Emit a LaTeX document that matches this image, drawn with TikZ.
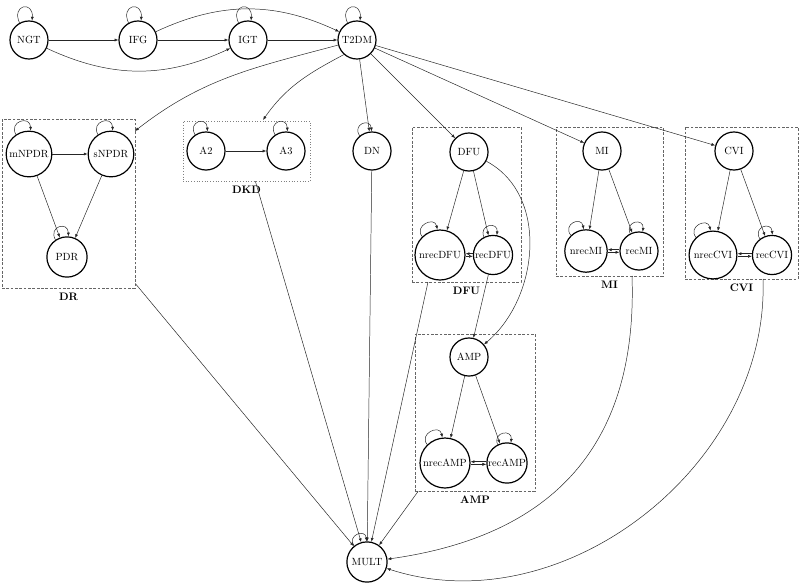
\documentclass[tikz,border=0pt]{standalone}
\usetikzlibrary{arrows.meta,fit,calc}
\newcommand\nodeloop[3]{%
  \pgfmathtruncatemacro\lpa{#2+19}\pgfmathtruncatemacro\lpb{#2-19}%
  \draw[arr] (#1.\lpa) .. controls +(\lpa-5:#3) and +(\lpb+5:#3) .. (#1.\lpb);}
\begin{document}
\begin{tikzpicture}[x=0.92pt,y=-0.92pt,
  st/.style={circle,draw,line width=1.1pt,inner sep=0pt,minimum size=35pt,font=\fontsize{9.6}{11}\selectfont},
  arr/.style={line width=0.45pt,draw=black!85,-{Latex[length=3.5pt,width=2.8pt]}},
  dbox/.style={draw=black!60,line width=0.6pt,dash pattern=on 2.5pt off 1.5pt,inner sep=0pt},
  dotbox/.style={draw=black!50,line width=0.5pt,dotted,inner sep=0pt},
  blab/.style={font=\bfseries,below=1pt}
]
\useasboundingbox (0,0) rectangle (800,585);

% boxes
\coordinate (drA) at (2,119);   \coordinate (drB) at (135,288);
\coordinate (dkA) at (183,121); \coordinate (dkB) at (310,181);
\coordinate (dfA) at (412,127); \coordinate (dfB) at (521,282);
\coordinate (miA) at (556,127); \coordinate (miB) at (663,276);
\coordinate (cvA) at (685,127); \coordinate (cvB) at (798,279);
\coordinate (amA) at (415,334); \coordinate (amB) at (535,491);
\node[dbox,fit=(drA)(drB)] (DRb) {};
\node[dotbox,fit=(dkA)(dkB)] (DKDb) {};
\node[dbox,fit=(dfA)(dfB)] (DFUb) {};
\node[dbox,fit=(miA)(miB)] (MIb) {};
\node[dbox,fit=(cvA)(cvB)] (CVIb) {};
\node[dbox,fit=(amA)(amB)] (AMPb) {};
\node[blab] (DRl) at (DRb.south) {DR};
\node[blab] (DKDl) at (DKDb.south) {DKD};
\node[blab] (DFUl) at (DFUb.south) {DFU};
\node[blab] (MIl) at (MIb.south) {MI};
\node[blab] (CVIl) at (CVIb.south) {CVI};
\node[blab] (AMPl) at (AMPb.south) {AMP};

% nodes
\node[st] (NGT) at (29,40) {NGT};
\node[st] (IFG) at (138,40) {IFG};
\node[st] (IGT) at (248,40) {IGT};
\node[st] (T2DM) at (357,40) {T2DM};
\node[st,minimum size=42pt] (mNPDR) at (29,154) {mNPDR};
\node[st,minimum size=42pt] (sNPDR) at (111,154) {sNPDR};
\node[st,minimum size=37pt] (PDR) at (67,257) {PDR};
\node[st] (A2) at (206,151) {A2};
\node[st] (A3) at (286,151) {A3};
\node[st] (DN) at (372,151) {DN};
\node[st] (DFU) at (469,152) {DFU};
\node[st,minimum size=46pt] (nrecDFU) at (440,255) {nrecDFU};
\node[st,minimum size=36pt] (recDFU) at (493,255) {recDFU};
\node[st] (MI) at (602,151) {MI};
\node[st,minimum size=39pt] (nrecMI) at (586,251) {nrecMI};
\node[st] (recMI) at (639,251) {recMI};
\node[st] (CVI) at (734,151) {CVI};
\node[st,minimum size=44pt] (nrecCVI) at (713,255) {nrecCVI};
\node[st,minimum size=36pt] (recCVI) at (772,255) {recCVI};
\node[st] (AMP) at (469,357) {AMP};
\node[st,minimum size=46pt] (nrecAMP) at (445,463) {nrecAMP};
\node[st,minimum size=37pt] (recAMP) at (507,463) {recAMP};
\node[st,minimum size=37pt] (MULT) at (367,562) {MULT};

% self loops
\foreach \n in {NGT,IFG,IGT,T2DM} {\nodeloop{\n}{100}{6.5mm}}
\foreach \n in {mNPDR,sNPDR,PDR,A2,A3} {\nodeloop{\n}{105}{5mm}}
\nodeloop{DN}{110}{4.5mm}
\foreach \n in {nrecDFU,nrecMI,nrecCVI,nrecAMP} {\nodeloop{\n}{115}{4.5mm}}
\foreach \n in {recDFU,recMI,recAMP} {\nodeloop{\n}{98}{4.5mm}}
\nodeloop{recCVI}{108}{4.5mm}
\nodeloop{MULT}{110}{4.2mm}

% top chain
\draw[arr] (NGT) -- (IFG);
\draw[arr] (IFG) -- (IGT);
\draw[arr] (IGT) -- (T2DM);
\draw[arr] (NGT) to[bend right=25] (IGT);
\draw[arr] (IFG) to[bend left=25] (T2DM);

% from T2DM
\coordinate (drIn) at (135,131);
\coordinate (dkIn) at (263,120);
\draw[arr] (T2DM.195) to[out=195,in=38] (drIn);
\draw[arr] (T2DM.228) to[out=208,in=55] (dkIn);
\draw[arr] (T2DM) -- (DN);
\draw[arr] (T2DM) -- (DFU);
\draw[arr] (T2DM) -- (MI);
\draw[arr] (T2DM) -- (CVI);

% DR
\draw[arr] (mNPDR) -- (sNPDR);
\draw[arr] (mNPDR) -- (PDR);
\draw[arr] (sNPDR) -- (PDR);
% DKD
\draw[arr] (A2) -- (A3);

% groups with nrec/rec
\foreach \p in {DFU,MI,CVI,AMP} {
  \draw[arr] (\p) -- (nrec\p);
  \draw[arr] (\p) -- (rec\p);
  \draw[arr] ([yshift=1.2pt]rec\p.west) -- ([yshift=1.2pt]nrec\p.east);
  \draw[arr] ([yshift=-1.2pt]nrec\p.east) -- ([yshift=-1.2pt]rec\p.west);
}

% DFU -> AMP
\draw[arr] (DFU) to[out=-28,in=40] (AMP);
\draw[arr] (recDFU) -- (AMP);

% into MULT
\coordinate (dfOut) at (428,282);
\coordinate (miOut) at (632,276);
\coordinate (cvOut) at (763,279);
\draw[arr] (DRb) -- (MULT);
\draw[arr] (DKDb) -- (MULT);
\draw[arr] (DN) -- (MULT);
\draw[arr] (dfOut) -- (MULT);
\draw[arr] (AMPb) -- (MULT);
\draw[arr] (miOut) to[out=-88,in=8,looseness=1.15] (MULT);
\draw[arr] (cvOut) to[out=-88,in=-18] (MULT);
\end{tikzpicture}
\end{document}
